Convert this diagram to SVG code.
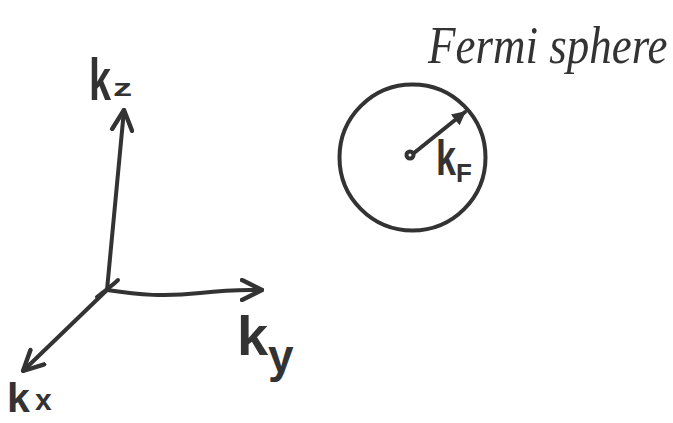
<svg xmlns="http://www.w3.org/2000/svg" width="673" height="423" viewBox="0 0 673 423">
<style>
.ln{fill:none;stroke:#333;stroke-width:4;stroke-linecap:round;stroke-linejoin:round}
.lbl{fill:#333;font-family:"Liberation Sans",Arial,sans-serif;font-weight:bold}
.hand{fill:#333;font-family:"Liberation Serif",serif;font-style:italic}
</style>
<defs>
<marker id="chev" viewBox="0 0 12 12" refX="11" refY="6" markerWidth="6" markerHeight="6" orient="auto" markerUnits="strokeWidth">
<path d="M1,1 L11,6 L1,11" fill="none" stroke="#333" stroke-width="2.2" stroke-linecap="round" stroke-linejoin="round"/>
</marker>
<marker id="tri" viewBox="0 0 10 10" refX="9" refY="5" markerWidth="3.5" markerHeight="3.5" orient="auto" markerUnits="strokeWidth">
<path d="M0,0 L10,5 L0,10 z" fill="#333"/>
</marker>
</defs>
<rect width="673" height="423" fill="#fff"/>
<g id="connectors">
<path class="ln" d="M107,290 L124,110" marker-end="url(#chev)"/>
<path class="ln" d="M107,290 C140,295 165,297 200,293 S245,290 262,290" marker-end="url(#chev)"/>
<path class="ln" d="M107,290 L23,371" marker-end="url(#chev)"/>
<path class="ln" d="M97,297 C103,292 112,286 118,280"/>
<path class="ln" d="M414,153 L465,112" marker-end="url(#tri)"/>
</g>
<g id="kz">
<text class="lbl" font-size="60" transform="translate(89,100) scale(0.66,1)">k</text>
<text class="lbl" font-size="24" transform="translate(113,96) scale(1.6,1)">z</text>
</g>
<g id="ky">
<text class="lbl" x="237" y="355" font-size="56">k</text>
<text class="lbl" x="268" y="372" font-size="46">y</text>
</g>
<g id="kx">
<text class="lbl" x="7" y="412" font-size="41">k</text>
<text class="lbl" x="35" y="410" font-size="30">x</text>
</g>
<g id="fermi-sphere">
<circle class="ln" cx="412.5" cy="157.5" r="73"/>
<circle class="ln" cx="410" cy="155" r="3.5" stroke-width="3"/>
<text class="lbl" font-size="50" transform="translate(436,175) scale(0.72,1)">k</text>
<text class="lbl" x="456" y="182" font-size="26">F</text>
</g>
<g id="title">
<text class="hand" font-size="45" transform="translate(428,63) scale(1,1.15)">Fermi sphere</text>
</g>
</svg>
